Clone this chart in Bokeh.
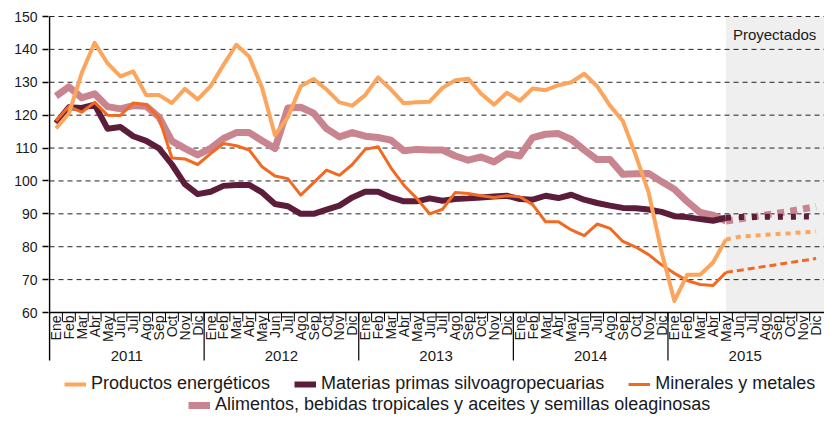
import math
from bokeh.plotting import figure
from bokeh.models import Range1d, FixedTicker, Legend, LegendItem, Label
from bokeh.core.properties import value
from bokeh.embed import file_html
from bokeh.resources import INLINE

# ---------------- data ----------------
months = ["Ene", "Feb", "Mar", "Abr", "May", "Jun", "Jul", "Ago", "Sep", "Oct", "Nov", "Dic"]
years = ["2011", "2012", "2013", "2014", "2015"]
y_ticks = [60, 70, 80, 90, 100, 110, 120, 130, 140, 150]

# Ene 2011 .. May 2015 (observed)
energeticos = [116, 120.5, 132.8, 142, 135.8, 131.8, 133.3, 126.1, 126.1, 123.7, 128, 124.8,
               128.8, 135.3, 141.4, 137.8, 128.3, 113.9, 119.4, 128.8, 131, 127.8, 123.9, 122.9,
               126.1, 131.5, 127.8, 123.6, 123.9, 124.1, 128.3, 130.6, 131.1, 126.5, 123.2, 126.8,
               124.4, 128.1, 127.6, 129.1, 130, 132.6, 128.8, 122.9, 118.2, 107.8, 96.5, 78.5,
               63.5, 71.5, 71.5, 75.2, 82.2]
materias = [117.6, 122.4, 122.2, 123.2, 115.9, 116.4, 113.6, 112.2, 109.9, 105, 99, 96,
            96.7, 98.5, 98.8, 98.8, 96.5, 93, 92.3, 90, 90, 91.3, 92.5, 95,
            96.7, 96.7, 95, 93.8, 93.8, 94.7, 94, 94.5, 94.7, 95, 95.3, 95.5,
            94.5, 94.3, 95.5, 94.8, 95.8, 94.3, 93.3, 92.5, 91.8, 91.7, 91.3, 90.6,
            89.3, 89, 88.4, 87.9, 88.8]
minerales = [118.2, 122.6, 120.9, 123.9, 120, 119.9, 123.7, 123.2, 119.2, 107, 106.7, 105,
             108.3, 111.4, 110.7, 109.4, 104.3, 101.5, 100.7, 95.7, 99.5, 103.3, 101.7, 105,
             109.6, 110.4, 104, 98.7, 94.7, 90, 91.4, 96.5, 96.2, 95.5, 95, 95.5,
             95.2, 92.8, 87.6, 87.6, 85.1, 83.4, 86.9, 85.6, 81.6, 79.9, 77.6, 74.5,
             71.9, 69.7, 68.5, 68.2, 72.2]
alimentos = [125.8, 128.6, 125.3, 126.5, 122.6, 121.9, 122.9, 122.7, 119.4, 112.1, 109.9, 107.9,
             109.9, 112.9, 114.7, 114.7, 112.2, 109.9, 122.2, 122.4, 120.6, 115.9, 113.4, 114.7,
             113.6, 113.2, 112.4, 109.2, 109.6, 109.4, 109.4, 107.6, 106.3, 107.3, 105.8, 108.3,
             107.6, 113.2, 114.2, 114.4, 112.6, 109.4, 106.5, 106.5, 102, 102.2, 102.3, 99.8,
             97.5, 93.7, 90.4, 89.6, 87.8]

# May 2015 .. Dic 2015 (projected)
proj_energeticos = [82.2, 83.0, 83.3, 83.6, 83.9, 84.1, 84.4, 84.6]
proj_materias = [88.8, 89.0, 89.0, 89.1, 89.1, 89.1, 89.2, 89.2]
proj_minerales = [72.2, 72.8, 73.4, 74.0, 74.6, 75.2, 75.8, 76.4]
proj_alimentos = [87.8, 88.4, 89.0, 89.6, 90.2, 90.8, 91.5, 92.2]

# ---------------- layout ----------------
FONT = "Liberation Sans"
TXT = "#1a1a1a"
W, H = 824, 416
TOP = 14                      # frame top (px)
Y150_PX, Y60_PX = 16, 312     # screen rows of 150 and 60
PPU = (Y60_PX - Y150_PX) / (y_ticks[-1] - y_ticks[0])
Y_END = y_ticks[-1] + (Y150_PX - TOP) / PPU
Y_START = Y_END - (H - TOP) / PPU
n_months = len(months) * len(years)
X_END = n_months + 0.15
Y_AX = y_ticks[0]

def below(px):
    return Y_AX - px / PPU

x_obs = [i + 0.5 for i in range(len(energeticos))]
first_proj = len(energeticos) - 1
x_proj = [first_proj + i + 0.5 for i in range(len(proj_energeticos))]

p = figure(width=W, height=H, output_backend="svg", toolbar_location=None,
           x_range=Range1d(-0.08, X_END), y_range=Range1d(Y_START, Y_END),
           x_axis_location=None, min_border_left=48, min_border_right=0,
           min_border_top=TOP, min_border_bottom=0)
p.outline_line_color = None
p.xgrid.visible = False
p.ygrid.visible = False
p.background_fill_color = "white"

ax = p.yaxis[0]
ax.ticker = FixedTicker(ticks=y_ticks)
ax.axis_line_color = None
ax.major_tick_out = 6
ax.major_tick_in = 0
ax.minor_tick_out = 0
ax.minor_tick_in = 0
ax.major_tick_line_color = "black"
ax.major_tick_line_width = 1.5
ax.major_label_text_font = FONT
ax.major_label_text_font_size = "14px"
ax.major_label_text_color = TXT
ax.major_label_standoff = 5

# projected shading
p.quad(left=first_proj + 0.5, right=X_END, bottom=Y_AX, top=y_ticks[-1],
       fill_color="#efefef", line_color=None)

# gridlines
grid_vals = y_ticks[1:]
p.segment(x0=[0] * len(grid_vals), x1=[X_END] * len(grid_vals), y0=grid_vals, y1=grid_vals,
          line_color="#222222", line_width=1, line_dash="5 4")

# axis lines and ticks
sep_bottom = below(48)
p.segment(x0=[0], x1=[X_END], y0=[Y_AX], y1=[Y_AX], line_color="black", line_width=1.5)
p.segment(x0=[0], x1=[0], y0=[sep_bottom], y1=[y_ticks[-1]], line_color="black", line_width=1.5)
bnds = list(range(1, n_months))
p.segment(x0=bnds, x1=bnds, y0=[Y_AX] * len(bnds), y1=[below(9)] * len(bnds),
          line_color="black", line_width=1)
ybnds = [12 * k for k in range(1, len(years))]
p.segment(x0=ybnds, x1=ybnds, y0=[Y_AX] * len(ybnds), y1=[sep_bottom] * len(ybnds),
          line_color="black", line_width=1.2)

# month labels
p.text(x=[i + 0.5 for i in range(n_months)], y=[below(3)] * n_months,
       text=months * len(years), angle=math.pi / 2, text_align="right",
       text_baseline="middle", text_font=value(FONT), text_font_size="14px", text_color=TXT)
# year labels
p.text(x=[12 * k + 6 for k in range(len(years))], y=[below(43)] * len(years), text=years,
       text_align="center", text_baseline="middle", text_font=value(FONT),
       text_font_size="15px", text_color=TXT)

# series
c_en, c_ma, c_mi, c_al = "#FCA55D", "#5B1D3A", "#F26A21", "#C9858F"
r_al = p.line(x_obs, alimentos, line_color=c_al, line_width=7, line_join="round")
r_ma = p.line(x_obs, materias, line_color=c_ma, line_width=6, line_join="round")
r_mi = p.line(x_obs, minerales, line_color=c_mi, line_width=3, line_join="round")
r_en = p.line(x_obs, energeticos, line_color=c_en, line_width=4, line_join="round")

p.line(x_proj, proj_alimentos, line_color=c_al, line_width=7, line_dash="7 6")
p.line(x_proj, proj_materias, line_color=c_ma, line_width=6, line_dash="5 8")
p.line(x_proj, proj_minerales, line_color=c_mi, line_width=3, line_dash="7 4")
p.line(x_proj, proj_energeticos, line_color=c_en, line_width=4, line_dash="5 5")

p.add_layout(Label(x=first_proj + 0.5, y=y_ticks[-1], x_offset=7, y_offset=-18,
                   text="Proyectados", text_font=FONT, text_font_size="15px",
                   text_color=TXT, text_baseline="middle"))

def make_legend(items, loc):
    return Legend(items=items, location=loc, orientation="horizontal",
                  label_text_font=FONT, label_text_font_size="18px", label_text_color=TXT,
                  glyph_width=22, glyph_height=20, label_standoff=5, spacing=24,
                  padding=0, margin=0, border_line_color=None, background_fill_alpha=0)

leg1 = make_legend([LegendItem(label="Productos energéticos", renderers=[r_en]),
                    LegendItem(label="Materias primas silvoagropecuarias", renderers=[r_ma]),
                    LegendItem(label="Minerales y metales", renderers=[r_mi])], (16, 22))
leg2 = make_legend([LegendItem(label="Alimentos, bebidas tropicales y aceites y semillas oleaginosas",
                               renderers=[r_al])], (140, 1))
p.add_layout(leg1)
p.add_layout(leg2)

open("out.html", "w").write(file_html(p, INLINE))
